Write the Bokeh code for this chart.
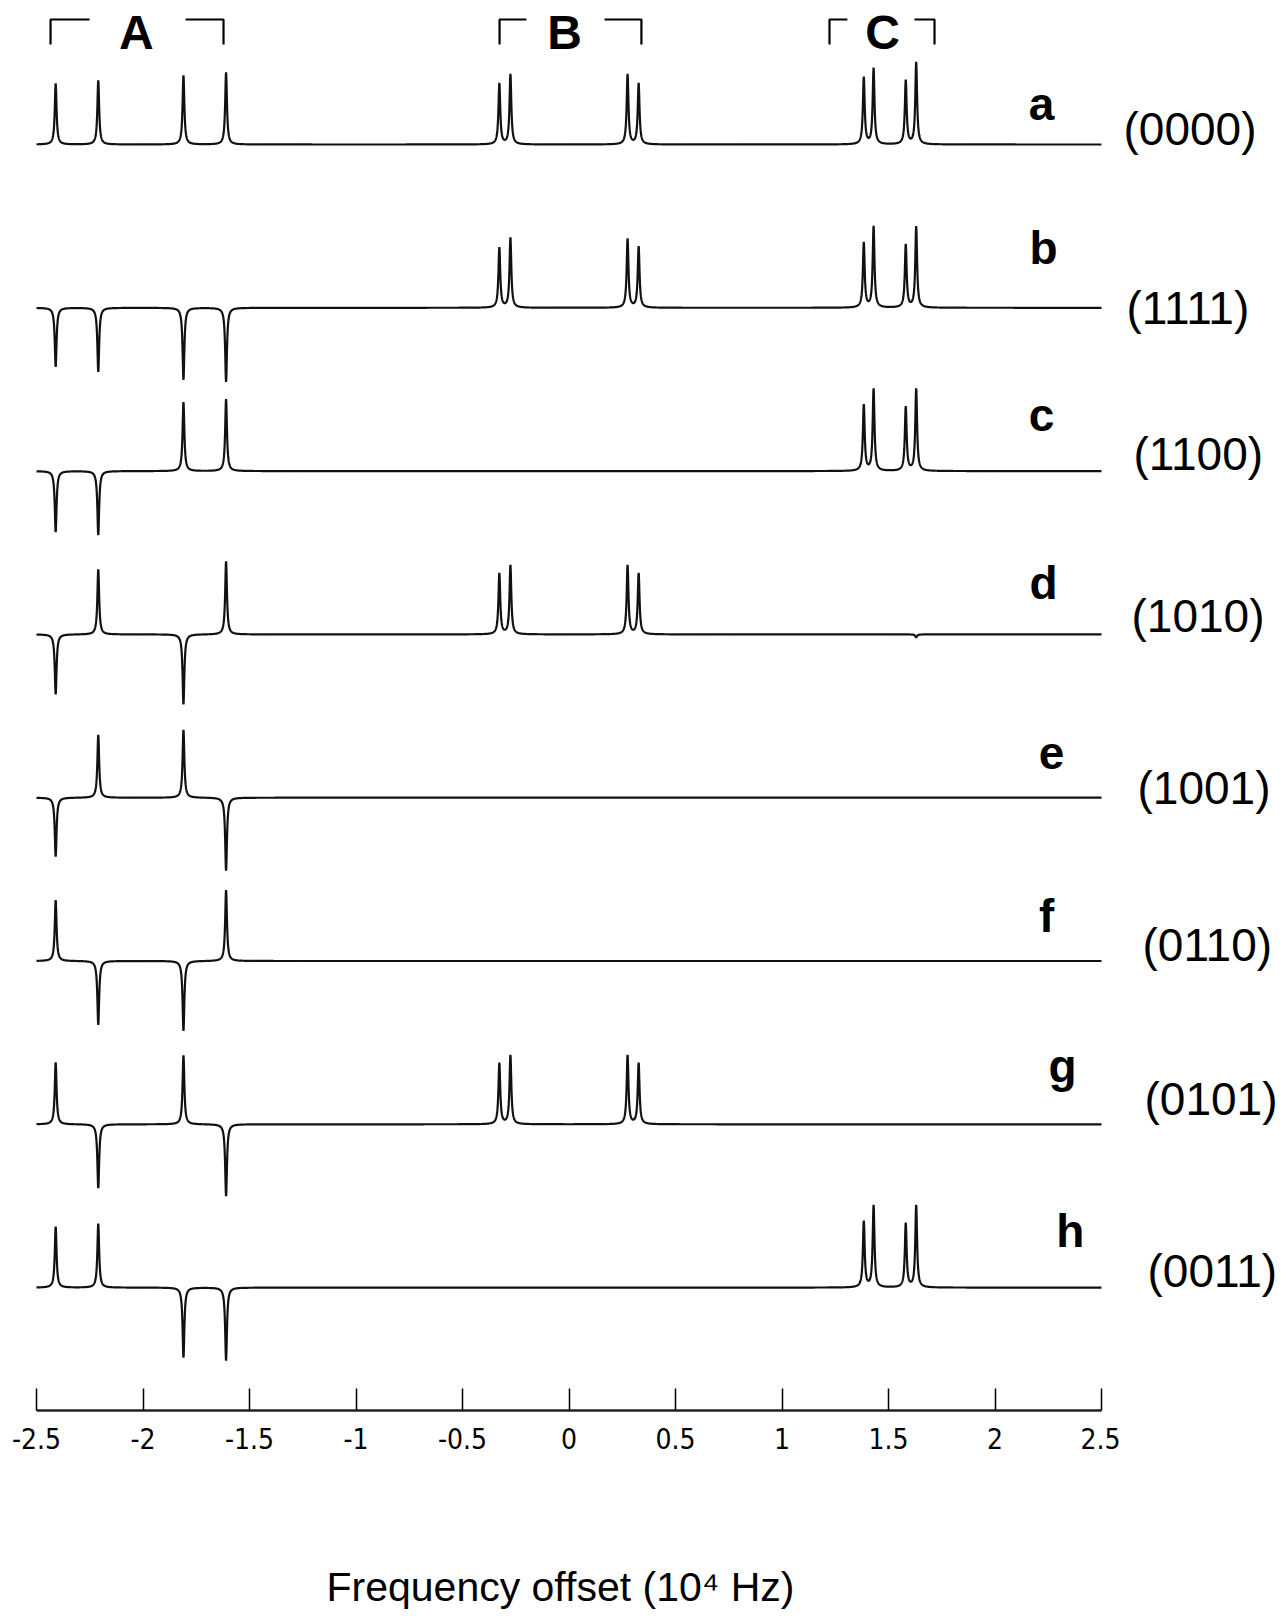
import numpy as np
from bokeh.plotting import figure
from bokeh.layouts import row
from bokeh.models import Range1d, FixedTicker
from bokeh.core.properties import value
from bokeh.embed import file_html
from bokeh.resources import INLINE

# ---------------- data ----------------
# peak positions, in 10^4 Hz
peaks_A = [-2.41, -2.21, -1.81, -1.61]
peaks_B = [-0.327, -0.275, 0.275, 0.327]
peaks_C = [1.384, 1.430, 1.581, 1.630]

row_letters = ["a", "b", "c", "d", "e", "f", "g", "h"]
row_codes = ["(0000)", "(1111)", "(1100)", "(1010)", "(1001)", "(0110)", "(0101)", "(0011)"]

# signed peak intensities (arbitrary units) for each spectrum a..h
amp_A = [
    [61, 64, 69, 72],
    [-59, -64, -72, -74],
    [-61, -64, 69, 72],
    [-60, 65, -70, 73],
    [-59, 63, 68, -73],
    [61, -64, -70, 71],
    [62, -64, 69, -72],
    [61, 64, -70, -73],
]
amp_B = [
    [61, 70, 70, 61],
    [60, 70, 69, 61],
    [0, 0, 0, 0],
    [61, 69, 69, 61],
    [0, 0, 0, 0],
    [0, 0, 0, 0],
    [61, 69, 69, 61],
    [0, 0, 0, 0],
]
amp_C = [
    [67, 76, 64, 82],
    [65, 81, 63, 81],
    [66, 82, 64, 82],
    [0, 0, 0, -3],
    [0, 0, 0, 0],
    [0, 0, 0, 0],
    [0, 0, 0, 0],
    [66, 82, 64, 82],
]

group_names = ["A", "B", "C"]
tick_values = [-2.5, -2, -1.5, -1, -0.5, 0, 0.5, 1, 1.5, 2, 2.5]
tick_labels = ["-2.5", "-2", "-1.5", "-1", "-0.5", "0", "0.5", "1", "1.5", "2", "2.5"]
x_label = "Frequency offset (10\u2074 Hz)"

# ---------------- layout / style ----------------
W, H = 1286, 1616
W1 = 1120                          # spectra panel width, code labels to its right
FRAME_H = 1410
BORDER_B = H - FRAME_H
px_per_unit = 213.0
x0_px = 36.0                       # px of x = -2.5
x_start = -2.5 - x0_px / px_per_unit
x_end = x_start + W1 / px_per_unit

top_offset = 1266.0
row_step = 163.3
linewidth_hz = 0.005               # Lorentzian half width

letter_x = [2.218, 2.228, 2.218, 2.228, 2.265, 2.242, 2.317, 2.354]
letter_dy = [41, 60, 56, 51, 45, 45, 58, 57]
code_px = [3, 6, 13, 11, 17, 22, 24, 27]   # px from the left of the label panel
code_dy = [16, 0, 17, 18, 10, 16, 25, 17]

br_top, br_bot = 1391, 1366
brackets = [(-2.434, -2.251, -1.80, -1.622), (-0.326, -0.20, 0.167, 0.34), (1.223, 1.307, 1.622, 1.716)]
group_label_x = [-2.031, -0.021, 1.472]
group_label_y = 1378

p = figure(width=W1, height=H, output_backend="svg", toolbar_location=None,
           x_range=Range1d(x_start, x_end), y_range=Range1d(0, FRAME_H),
           y_axis_location=None, x_axis_location="below",
           min_border_left=0, min_border_right=0, min_border_top=0,
           min_border_bottom=BORDER_B)
q = figure(width=W - W1, height=H, output_backend="svg", toolbar_location=None,
           x_range=Range1d(0, W - W1), y_range=Range1d(0, FRAME_H),
           y_axis_location=None, x_axis_location=None,
           min_border_left=0, min_border_right=0, min_border_top=0,
           min_border_bottom=BORDER_B)
for f in (p, q):
    f.outline_line_color = None
    f.grid.visible = False
    f.background_fill_color = "white"
    f.border_fill_color = "white"

xs = np.linspace(-2.5, 2.5, 5001)
all_pos = peaks_A + peaks_B + peaks_C
for i in range(8):
    amps = amp_A[i] + amp_B[i] + amp_C[i]
    trace = np.zeros_like(xs)
    for pos, a in zip(all_pos, amps):
        if a != 0:
            trace += a * linewidth_hz ** 2 / ((xs - pos) ** 2 + linewidth_hz ** 2)
    base = top_offset - i * row_step
    p.line(xs, trace + base, line_color="#111111", line_width=2.2)

    p.text(x=[letter_x[i]], y=[base + letter_dy[i]], text=[row_letters[i]],
           text_font=value("Liberation Sans"), text_font_style="bold",
           text_font_size="46px", text_align="center", text_baseline="alphabetic",
           text_color="black")
    q.text(x=[code_px[i]], y=[base + code_dy[i]], text=[row_codes[i]],
           text_font=value("Liberation Sans"), text_font_size="46px",
           text_align="left", text_baseline="alphabetic", text_color="black")

bx, by = [], []
for (l1, l2, r1, r2) in brackets:
    bx.append([l1, l1, l2]); by.append([br_bot, br_top, br_top])
    bx.append([r1, r2, r2]); by.append([br_top, br_top, br_bot])
p.multi_line(bx, by, line_color="black", line_width=2.2)
p.text(x=group_label_x, y=[group_label_y] * 3, text=group_names,
       text_font=value("Liberation Sans"), text_font_style="bold",
       text_font_size="48px", text_align="center", text_baseline="alphabetic",
       text_color="black")

ax = p.xaxis[0]
ax.ticker = FixedTicker(ticks=tick_values)
ax.major_label_overrides = {v: s for v, s in zip(tick_values, tick_labels)}
ax.bounds = (-2.5, 2.5)
ax.major_tick_in = 22
ax.major_tick_out = 0
ax.minor_tick_line_color = None
ax.major_tick_line_width = 1.5
ax.major_tick_line_color = "black"
ax.axis_line_width = 2.5
ax.axis_line_color = "#222222"
ax.major_label_text_font = "DejaVu Sans Condensed"
ax.major_label_text_font_size = "28px"
ax.major_label_text_color = "black"
ax.major_label_standoff = 17
ax.axis_label = x_label
ax.axis_label_text_font = "Liberation Sans"
ax.axis_label_text_font_style = "normal"
ax.axis_label_text_font_size = "41px"
ax.axis_label_text_color = "black"
ax.axis_label_standoff = 112

layout = row(p, q, spacing=0)
open("out.html", "w").write(file_html(layout, INLINE))
